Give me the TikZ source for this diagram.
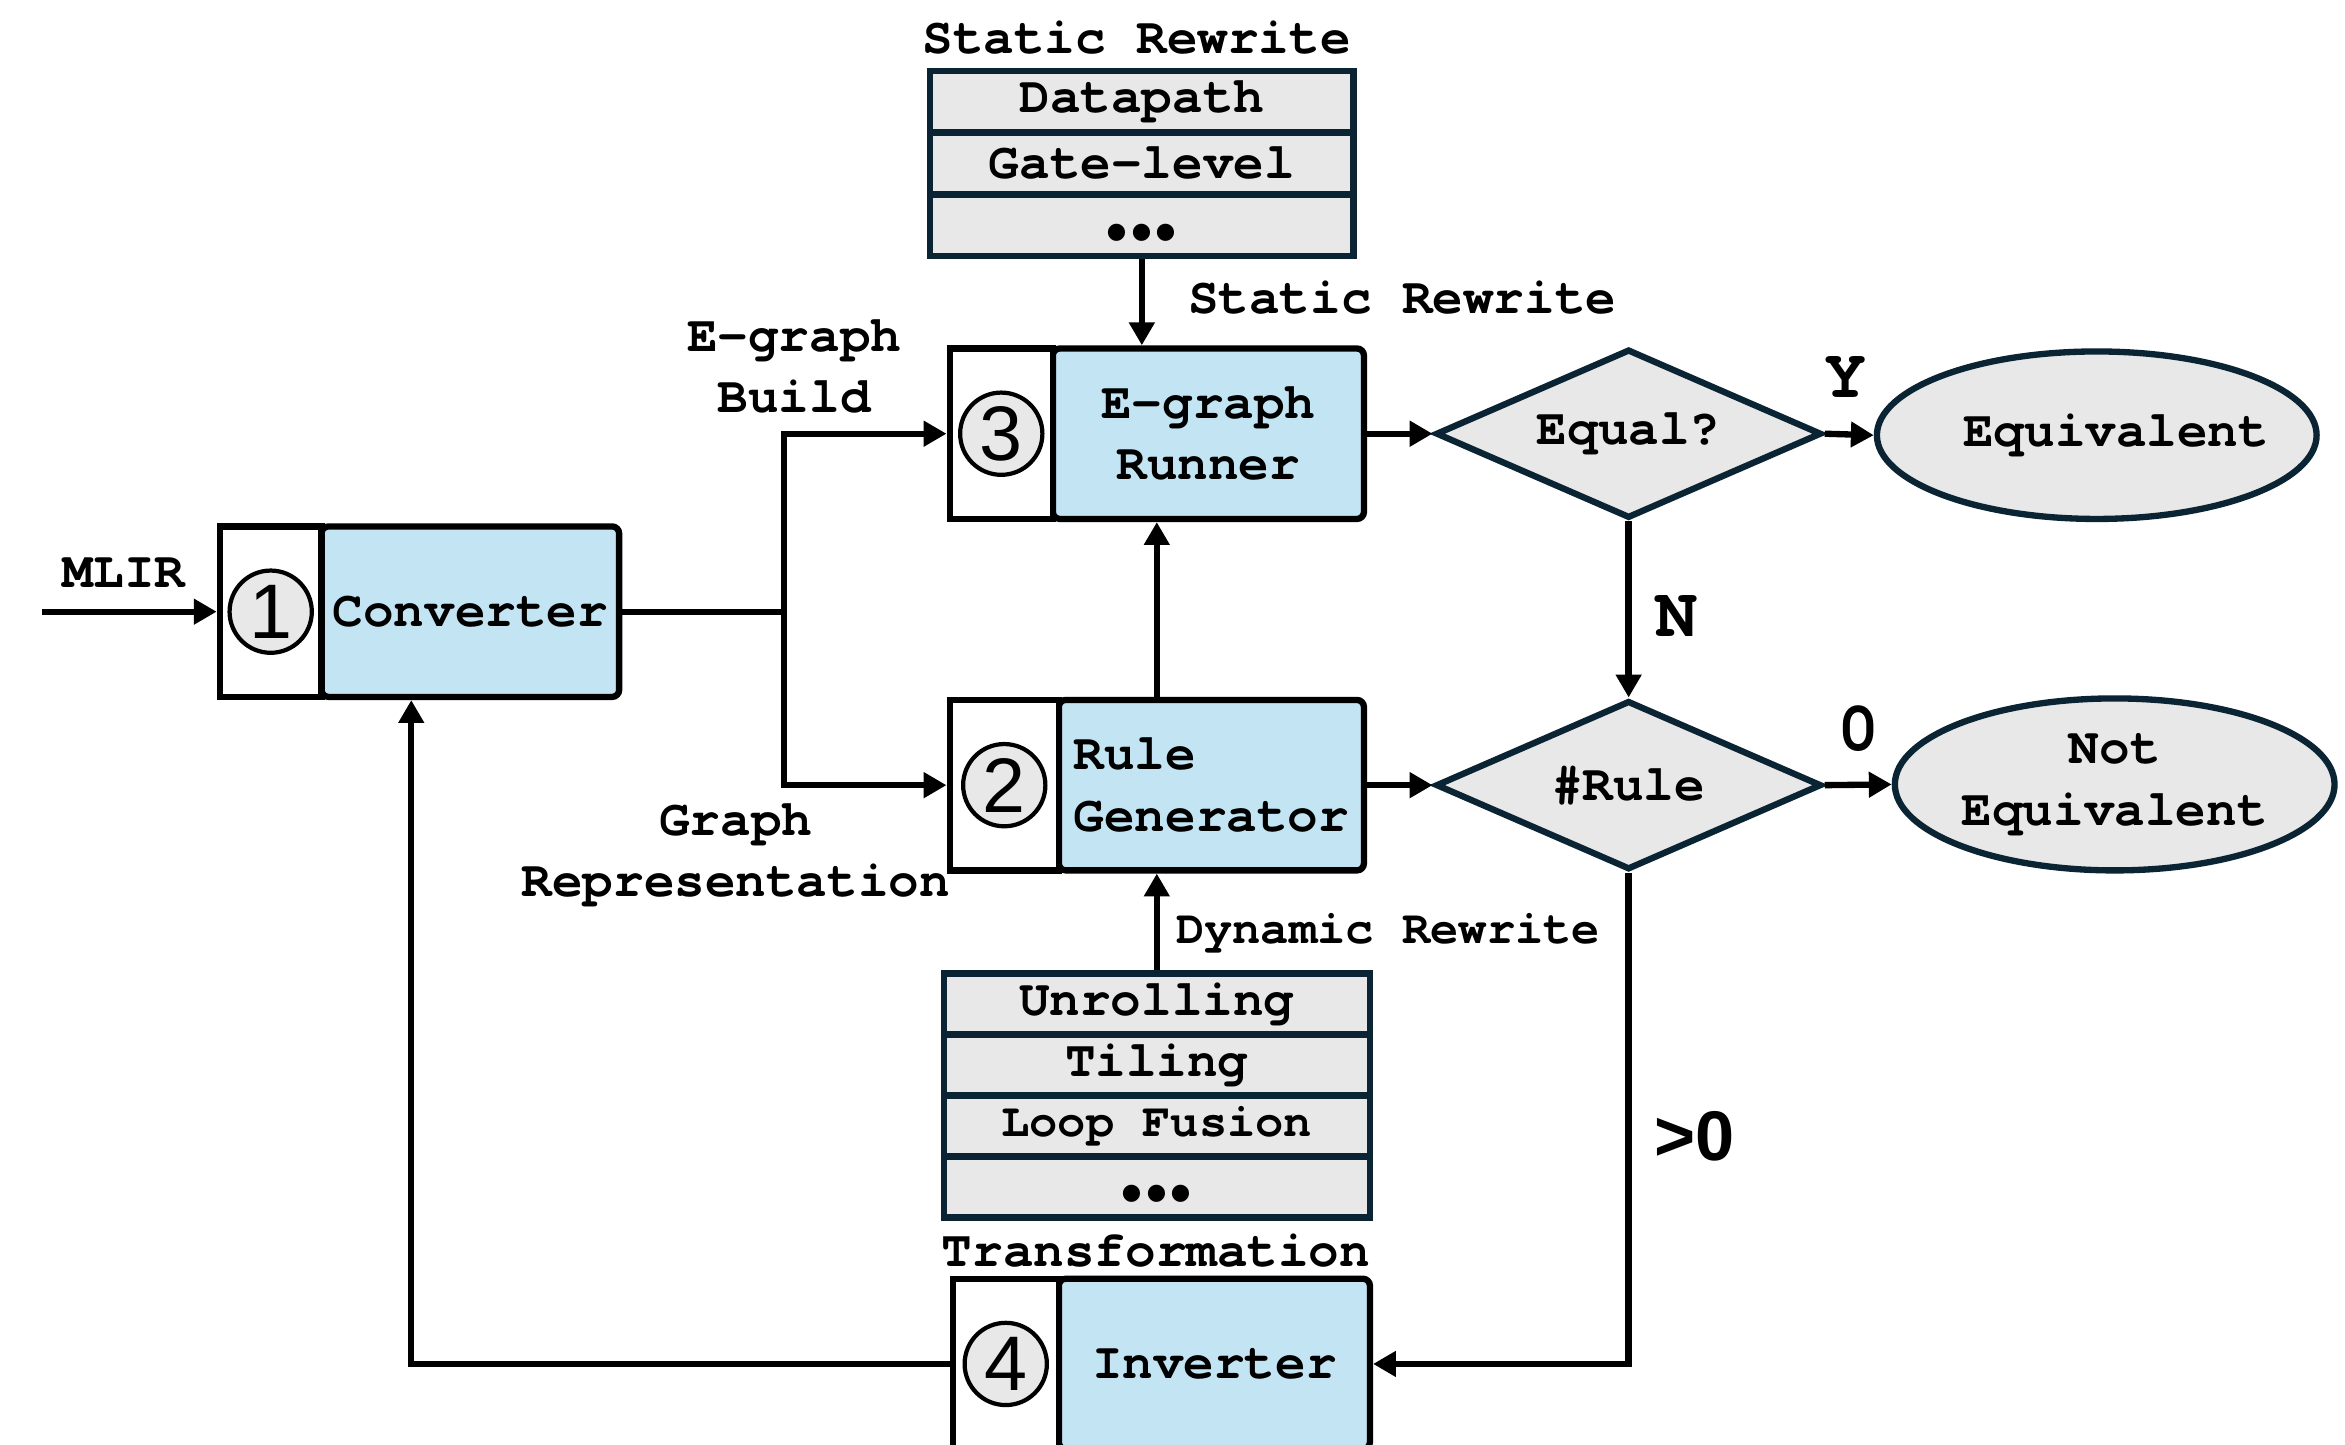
\documentclass[tikz,border=0pt]{standalone}
\usepackage{fontspec}
\setmonofont{TeX Gyre Cursor}
\newfontfamily\sansdigits{Liberation Sans}
\usetikzlibrary{arrows.meta,shapes.geometric,calc}
\newlength\pxu
\setlength\pxu{0.014955cm}
\definecolor{cellblue}{RGB}{194,228,243}
\definecolor{cellgray}{RGB}{232,232,232}
\definecolor{navy}{RGB}{11,36,51}
% three round dots for the "more rows" cells
\newcommand\moredots{{\sansdigits\fontsize{17}{17}\selectfont
  \raisebox{-7.6pt}[0pt][0pt]{•\hspace{1pt}•\hspace{1pt}•}}}

\begin{document}
\begin{tikzpicture}[x=0.014955cm, y=-0.014955cm,
  txt/.style={font=\fontsize{14.5}{17.5}\selectfont\ttfamily\bfseries, inner sep=0, align=center},
  smalltxt/.style={font=\fontsize{13.4}{16}\selectfont\ttfamily\bfseries, inner sep=0},
  biglbl/.style={font=\fontsize{20}{20}\selectfont\ttfamily\bfseries, inner sep=0},
  numcell/.style={draw=black, fill=white, line width=1.8pt, minimum height=114*\pxu, inner sep=0},
  labcell/.style={draw=black, fill=cellblue, line width=1.8pt, rounded corners=2pt,
                  minimum height=114*\pxu, inner sep=0, txt},
  nummark/.style={circle, draw=black, fill=cellgray, line width=1.2pt, minimum size=55*\pxu,
                  inner sep=0, font=\sansdigits\fontsize{22}{22}\selectfont},
  rowcell/.style={draw=navy, fill=cellgray, line width=1.8pt, inner sep=0, txt},
  decision/.style={diamond, draw=navy, fill=cellgray, line width=1.8pt, aspect=2.28,
                   minimum width=258*\pxu, minimum height=113*\pxu, inner sep=0, txt},
  outcome/.style={ellipse, draw=navy, fill=cellgray, line width=1.8pt,
                  minimum width=294*\pxu, inner sep=0, txt},
  wire/.style={line width=1.8pt},
  flow/.style={line width=1.8pt, -{Triangle[length=6.5pt,width=7pt]}}
]
\useasboundingbox (0,0) rectangle (1568,966);
\clip (0,0) rectangle (1568,966);

% (1) converter
\node[labcell, minimum width=199*\pxu] (l1) at (314.5,409) {Converter};
\node[numcell, minimum width=68*\pxu] (n1) at (181,409) {};
\node[nummark] (c1) at (n1) {1};

% (3) e-graph runner
\node[labcell, minimum width=208*\pxu] (l3) at (808,290) {E-graph\\Runner};
\node[numcell, minimum width=69*\pxu] (n3) at (669.5,290) {};
\node[nummark] (c3) at (n3) {3};

% (2) rule generator
\node[labcell, minimum width=204*\pxu, align=left] (l2) at (810,525) {Rule\\Generator};
\node[numcell, minimum width=73*\pxu] (n2) at (671.5,525) {};
\node[nummark] (c2) at (n2) {2};

% (4) inverter
\node[labcell, minimum width=208*\pxu] (l4) at (812,912) {Inverter};
\node[numcell, minimum width=71*\pxu] (n4) at (672.5,912) {};
\node[nummark] (c4) at (n4) {4};

% static rewrite rule table
\node[txt] (stitle) at (760,25) {Static Rewrite};
\node[rowcell, minimum width=283*\pxu, minimum height=41.3*\pxu] (s1) at (763.5,68) {Datapath};
\node[rowcell, minimum width=283*\pxu, minimum height=41.3*\pxu] (s2) at (763.5,109.3) {Gate-level};
\node[rowcell, minimum width=283*\pxu, minimum height=41.3*\pxu] (s3) at (763.5,150.7) {\moredots};

% dynamic rewrite transformation table
\node[rowcell, minimum width=285*\pxu, minimum height=40.75*\pxu] (d1) at (773.5,671.4) {Unrolling};
\node[rowcell, minimum width=285*\pxu, minimum height=40.75*\pxu] (d2) at (773.5,712.1) {Tiling};
\node[rowcell, minimum width=285*\pxu, minimum height=40.75*\pxu, smalltxt] (d3) at (773.5,752.9) {Loop Fusion};
\node[rowcell, minimum width=285*\pxu, minimum height=40.75*\pxu] (d4) at (773.5,793.6) {\moredots};
\node[txt] (dtitle) at (773,836) {Transformation};

% decisions and outcomes
\node[decision] (eq) at (1089,290) {Equal?};
\node[decision] (rule) at (1089,525) {\#Rule};
\node[outcome, minimum height=112*\pxu] (equiv) at (1402,291) {};
\node[txt] (equivtxt) at (1415,291) {Equivalent};
\node[outcome, minimum height=115*\pxu] (nequiv) at (1414,524.5) {Not\\Equivalent};

% edge labels
\node[txt] (mlir) at (83,383) {MLIR};
\node[txt] (build) at (531,245) {E-graph\\Build};
\node[txt] (grep) at (492,572) {Graph\\Representation};
\node[txt, anchor=west] (srw) at (794,199) {Static Rewrite};
\node[smalltxt, anchor=west] (drw) at (786,624) {Dynamic Rewrite};
\node[biglbl] (yes) at (1234,252) {Y};
\node[biglbl] (no) at (1121,412) {N};
\node[biglbl] (zero) at (1243,487) {0};
\node[inner sep=0, font=\sansdigits\bfseries\fontsize{20}{20}\selectfont] (pos) at (1133,760) {>0};

% connectors
\coordinate (src) at (28,409);
\draw[flow] (src) -- (n1.west);
\coordinate (split) at (524,409);
\draw[wire] (l1.east) -- (split);
\draw[flow] (split) |- (n3.west);
\draw[flow] (split) |- (n2.west);
\draw[flow] (s3.south) -- (s3.south |- l3.north);
\draw[flow] (d1.north) -- (d1.north |- l2.south);
\draw[flow] (d1.north |- l2.north) -- (d1.north |- l3.south);
\draw[flow] (l3.east) -- (eq.west);
\draw[flow] (eq.east) -- (equiv.west);
\draw[flow] (eq.south) -- (rule.north);
\draw[flow] (l2.east) -- (rule.west);
\draw[flow] (rule.east) -- (nequiv.west);
\draw[flow] (rule.south) |- (l4.east);
\coordinate (back) at (275,912);
\draw[flow] (n4.west) -- (back) -- (back |- l1.south);
\end{tikzpicture}
\end{document}
